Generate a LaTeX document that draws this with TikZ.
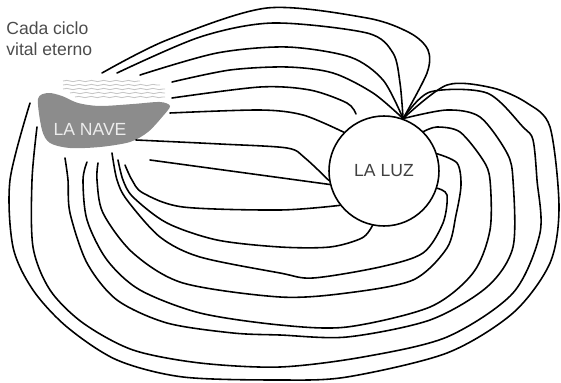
\documentclass[tikz,border=0pt]{standalone}
\usepackage{fontspec}
\setmainfont{Liberation Sans}
\setsansfont{Liberation Sans}
\usetikzlibrary{decorations.pathmorphing}
\tikzset{
  linea/.style={line width=.9pt,black,line cap=round},
  ola/.style={line width=.5pt,gray!45,decorate,decoration={snake,amplitude=.35pt,segment length=7pt}},
  casco/.style={fill=black!45},
  sol/.style={circle,draw=black,line width=.9pt,minimum size=2.2cm,inner sep=0pt,font=\sffamily,text=black!75},
  rotulo/.style={font=\sffamily,text=black!70}
}
\begin{document}
\begin{tikzpicture}[x=0.02cm,y=-0.02cm]
  \useasboundingbox (0,0) rectangle (561,382);

  \node[rotulo,align=left,anchor=north west,inner sep=0pt] (ciclo) at (6,21) {Cada ciclo\\vital eterno};

  % la nave y las olas
  \draw[ola] (63,81) -- (140,81);
  \draw[ola] (63,85) -- (160,85);
  \draw[ola] (63,89) -- (165,89);
  \draw[ola] (70,93) -- (165,93);
  \draw[ola] (75,97) -- (165,97);
  \fill[casco] plot[smooth cycle] coordinates {(38,99) (48,93) (62,96) (78,103) (100,106) (133,104) (160,102) (170,106) (163,116) (148,132) (130,142) (100,147) (70,148) (50,143) (42,130)};
  \node[rotulo,text=white!85!gray] (nave) at (90,129) {LA NAVE};

  \node[sol] (luz) at (384,171) {LA LUZ};

  % lineas de arriba
  \draw[linea] plot[smooth] coordinates {(102,73) (167,40) (267,8) (367,18) (410,33) (428,50) (427,73) (luz.70)};
  \draw[linea] plot[smooth] coordinates {(117,73) (200,37) (273,23) (367,33) (393,53) (400,83) (luz.70)};
  \draw[linea] plot[smooth] coordinates {(140,75) (217,53) (287,47) (350,57) (383,80) (luz.70)};
  \draw[linea] plot[smooth] coordinates {(172,82) (230,70) (287,67) (333,73) (373,93) (luz.70)};
  \draw[linea] plot[smooth] coordinates {(172,98) (260,87) (310,90) (347,103) (356,114)};
  \draw[linea] plot[smooth] coordinates {(170,113) (260,110) (303,115) (luz.136)};
  \draw[linea] plot[smooth] coordinates {(136,140) (220,144) (287,148) (305,158) (luz.190)};
  \draw[linea] (150,160) -- (luz.194);

  % lineas de abajo
  \draw[linea] plot[smooth] coordinates {(125,165) (132,180) (143,193) (183,207) (280,210) (luz.218)};
  \draw[linea] plot[smooth] coordinates {(118,160) (123,180) (133,197) (167,223) (217,240) (280,247) (330,247) (362,238) (luz.258)};
  \draw[linea] plot[smooth] coordinates {(112,153) (117,180) (127,200) (160,237) (200,257) (280,273) (313,278) (380,267) (423,253) (443,223) (447,195) (luz.342)};
  \draw[linea] plot[smooth] coordinates {(98,163) (97,180) (103,213) (133,253) (183,283) (280,297) (347,293) (413,280) (447,248) (456,215) (461,185) (457,163) (luz.18)};
  \draw[linea] plot[smooth] coordinates {(87,162) (83,180) (87,220) (107,260) (140,290) (200,313) (280,325) (347,327) (430,307) (473,273) (490,230) (490,180) (483,160) (460,132) (437,127) (luz.45)};
  \draw[linea] plot[smooth] coordinates {(65,158) (68,180) (70,213) (87,263) (117,300) (167,323) (233,333) (280,335) (347,337) (430,320) (487,287) (513,247) (513,180) (507,153) (480,117) (447,110) (luz.70)};
  \draw[linea] plot[smooth] coordinates {(37,127) (32,180) (33,247) (50,290) (83,323) (133,350) (200,363) (280,367) (363,357) (447,337) (513,293) (540,233) (537,180) (533,140) (523,127) (487,93) (430,92) (luz.70)};
  \draw[linea] plot[smooth] coordinates {(30,103) (10,180) (13,247) (33,290) (67,327) (117,360) (183,377) (280,380) (347,377) (447,353) (513,313) (550,263) (559,207) (550,127) (527,103) (493,88) (447,85) (luz.70)};
\end{tikzpicture}
\end{document}
